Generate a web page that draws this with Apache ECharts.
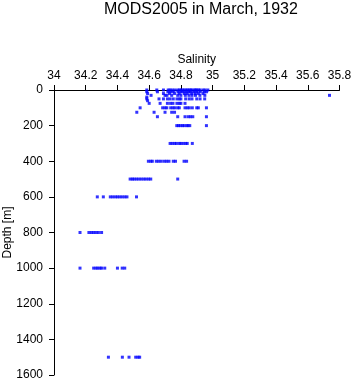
<!DOCTYPE html>
<html>
<head>
<meta charset="utf-8">
<script src="https://cdn.jsdelivr.net/npm/echarts@6/dist/echarts.min.js"></script>
<style>
  html, body { margin: 0; padding: 0; background: #fff; }
  #chart { width: 353px; height: 384px; }
</style>
</head>
<body>
<div id="chart"></div>
<script>
// salinity readings per depth level
var depths = [0, 10, 20, 30, 40, 50, 60, 75, 100, 125, 150, 200, 300, 400, 500, 600, 800, 1000, 1500];
var salinity = [
  [34.585, 34.648, 34.69, 34.72, 34.731, 34.744, 34.76, 34.779, 34.792, 34.80, 34.812, 34.821, 34.833, 34.842, 34.853, 34.862, 34.87, 34.884, 34.893, 34.90, 34.912, 34.921, 34.94, 34.952, 34.97],
  [34.585, 34.652, 34.718, 34.735, 34.752, 34.782, 34.80, 34.812, 34.83, 34.848, 34.86, 34.881, 34.90, 34.922, 34.948, 34.962],
  [34.59, 34.69, 34.728, 34.76, 34.79, 34.822, 34.84, 34.868, 34.89, 34.91, 34.94],
  [34.612, 34.70, 34.712, 34.742, 34.78, 34.80, 34.828, 34.851, 34.87, 34.892, 34.92, 34.951, 35.737],
  [34.585],
  [34.585, 34.662, 34.69, 34.715, 34.732, 34.752, 34.775, 34.79, 34.80, 34.83, 34.852, 34.87, 34.90, 34.921, 34.95],
  [34.59],
  [34.60, 34.669, 34.715, 34.735, 34.75, 34.775, 34.79, 34.80, 34.826],
  [34.543, 34.685, 34.70, 34.711, 34.736, 34.75, 34.762, 34.78, 34.79, 34.826, 34.84, 34.853, 34.872, 34.90, 34.91, 34.961],
  [34.522, 34.631, 34.70, 34.742, 34.76],
  [34.652, 34.78, 34.826, 34.846, 34.86, 34.875, 34.961],
  [34.774, 34.785, 34.796, 34.81, 34.82, 34.836, 34.845, 34.856, 34.961],
  [34.732, 34.745, 34.76, 34.772, 34.79, 34.80, 34.815, 34.83, 34.84, 34.872],
  [34.595, 34.61, 34.62, 34.645, 34.66, 34.676, 34.695, 34.71, 34.725, 34.752, 34.766, 34.82, 34.836],
  [34.48, 34.494, 34.505, 34.52, 34.535, 34.55, 34.566, 34.58, 34.596, 34.61, 34.78],
  [34.273, 34.311, 34.355, 34.37, 34.386, 34.40, 34.415, 34.43, 34.446, 34.46, 34.52],
  [34.164, 34.22, 34.236, 34.25, 34.265, 34.28, 34.30],
  [34.164, 34.25, 34.265, 34.276, 34.29, 34.30, 34.32, 34.40, 34.43, 34.446],
  [34.343, 34.431, 34.473, 34.515, 34.53, 34.54]
];

var points = [];
depths.forEach(function (d, i) {
  salinity[i].forEach(function (s) {
    points.push([s, d]);
  });
});

var chart = echarts.init(document.getElementById('chart'));
var font = 'Liberation Sans, Arial, Helvetica, sans-serif';

chart.setOption({
  animation: false,
  title: {
    text: 'MODS2005 in March, 1932',
    left: 99,
    top: -3,
    textStyle: { fontFamily: font, fontSize: 16, fontWeight: 'normal', color: '#000' }
  },
  grid: { left: 54, right: 13.5, top: 90, bottom: 9, containLabel: false, outerBoundsMode: 'none' },
  xAxis: {
    type: 'value',
    position: 'top',
    min: 34,
    max: 35.8,
    interval: 0.2,
    name: 'Salinity',
    nameLocation: 'middle',
    nameGap: 24,
    nameMoveOverlap: false,
    nameTextStyle: { fontFamily: font, fontSize: 12, color: '#000' },
    axisLine: { lineStyle: { color: '#000', width: 1 } },
    axisTick: { length: 5, lineStyle: { color: '#000' } },
    axisLabel: { fontFamily: font, fontSize: 12, color: '#000', margin: 8, hideOverlap: false },
    splitLine: { show: false }
  },
  yAxis: {
    type: 'value',
    inverse: true,
    min: 0,
    max: 1600,
    interval: 200,
    name: 'Depth [m]',
    nameLocation: 'middle',
    nameRotate: 90,
    nameGap: 40,
    nameMoveOverlap: false,
    nameTextStyle: { fontFamily: font, fontSize: 12, color: '#000' },
    axisLine: { show: true, lineStyle: { color: '#000', width: 1 } },
    axisTick: { show: true, length: 5, lineStyle: { color: '#000' } },
    axisLabel: {
      fontFamily: font, fontSize: 12, color: '#000', margin: 11,
      formatter: function (v) { return String(v); }
    },
    splitLine: { show: false }
  },
  series: [{
    type: 'scatter',
    data: points,
    symbol: 'rect',
    symbolSize: [3, 3],
    itemStyle: { color: '#0000ff' }
  }]
});
</script>
</body>
</html>
